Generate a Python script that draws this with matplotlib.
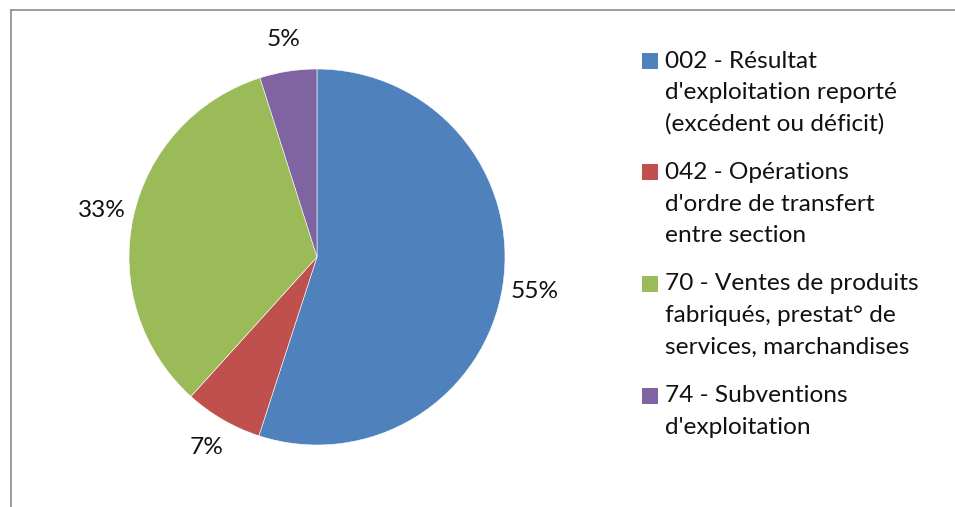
import matplotlib.pyplot as plt
from matplotlib.lines import Line2D
from matplotlib.patches import Rectangle

# data (shares in %)
labels = [
    "002 - Résultat\nd'exploitation reporté\n(excédent ou déficit)",
    "042 - Opérations\nd'ordre de transfert\nentre section",
    "70 - Ventes de produits\nfabriqués, prestat° de\nservices, marchandises",
    "74 - Subventions\nd'exploitation",
]
values = [55.0, 6.7, 33.4, 4.9]
colors = ['#4F81BD', '#C0504D', '#9BBB59', '#8064A2']

W, H = 955, 507
plt.rcParams['font.family'] = ['Lato', 'DejaVu Sans']
fs = 17.6

fig = plt.figure(figsize=(W / 100, H / 100), dpi=100)

# pie: centre (317, 257) px, radius 188 px
cx, cy, r = 317, 257, 188
ax = fig.add_axes([(cx - r) / W, (H - cy - r) / H, 2 * r / W, 2 * r / H])
ax.pie(values, colors=colors, startangle=90, counterclock=False,
       autopct='%.0f%%', pctdistance=1.17, radius=1,
       wedgeprops=dict(edgecolor='white', linewidth=0.4),
       textprops=dict(fontsize=fs, color='#111111'))
ax.set_xlim(-1, 1)
ax.set_ylim(-1, 1)
ax.set_aspect('equal')
ax.axis('off')

# chart frame (only top and left edges visible)
fig.add_artist(Line2D([11 / W, 11 / W], [0, 1 - 10 / H], color='#8c8c8c', lw=1.2,
                      transform=fig.transFigure))
fig.add_artist(Line2D([11 / W, 1], [1 - 10 / H, 1 - 10 / H], color='#8c8c8c', lw=1.2,
                      transform=fig.transFigure))

# legend
line_h = 31.5
gap = 17
y = 61
for lab, col in zip(labels, colors):
    fig.add_artist(Rectangle((642 / W, 1 - (y + 8) / H), 16 / W, 16 / H,
                             facecolor=col, edgecolor='none', transform=fig.transFigure))
    for line in lab.split('\n'):
        fig.text(665 / W, 1 - y / H, line, fontsize=fs, va='center', ha='left',
                 color='#111111')
        y += line_h
    y += gap

fig.savefig('out.png', dpi=100)
